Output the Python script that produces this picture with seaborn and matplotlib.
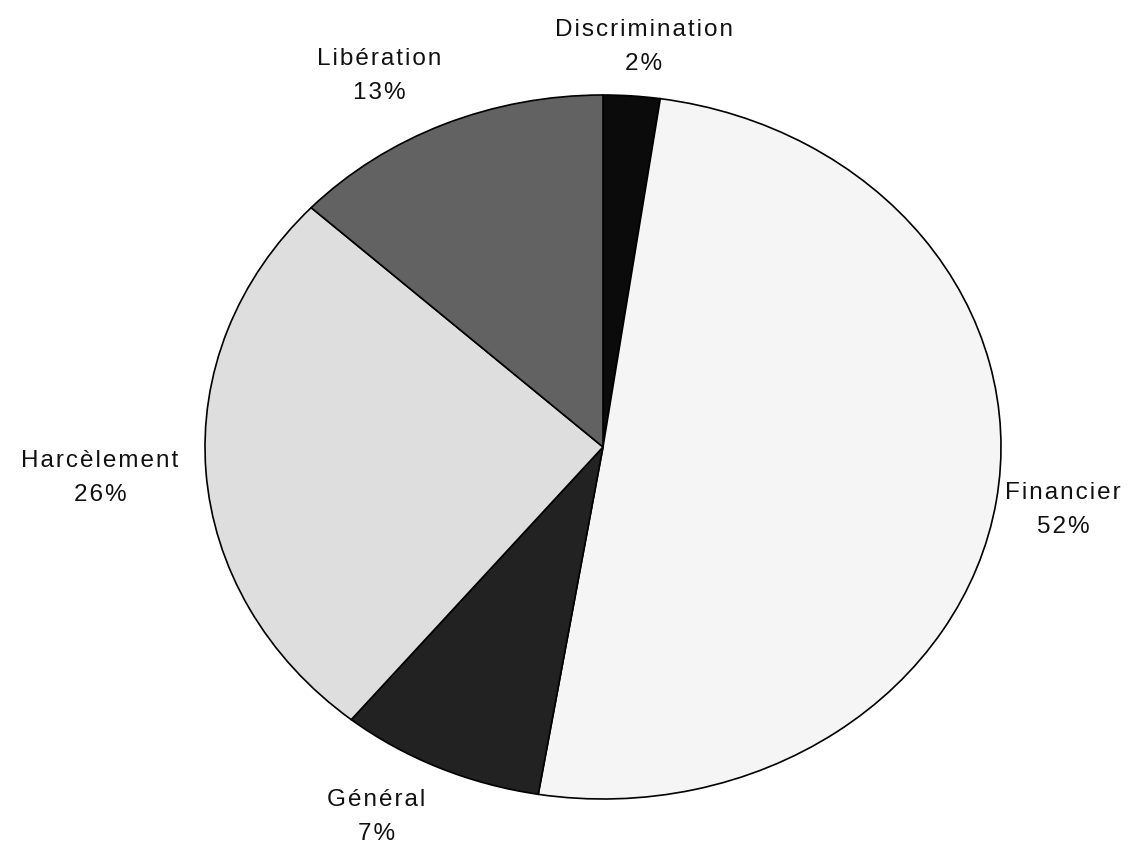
import numpy as np
import matplotlib
matplotlib.use("Agg")
import matplotlib.pyplot as plt
import seaborn as sns

categories = ["Discrimination", "Financier", "Général", "Harcèlement", "Libération"]
values = [2.3, 50.3, 8.3, 26.0, 13.1]
pct_labels = ["2%", "52%", "7%", "26%", "13%"]
colors = ["#0b0b0b", "#f5f5f5", "#222222", "#dedede", "#626262"]

sns.set_theme(style="white")
plt.rcParams["font.family"] = ["Liberation Sans", "DejaVu Sans"]

fig = plt.figure(figsize=(11.48, 8.5), dpi=100)
ax = fig.add_axes([205 / 1148, 51 / 850, 796 / 1148, 704 / 850])

wedges, _ = ax.pie(values, colors=colors, startangle=90, counterclock=False,
                   wedgeprops=dict(edgecolor="black", linewidth=1.2))
ax.set_aspect("auto")
ax.set_xlim(-1, 1)
ax.set_ylim(-1, 1)
ax.axis("off")


def spaced(s):
    return "\u200a".join(s)


# per-label radial distance and x shift (layout only)
dist = [1.14, 1.17, 1.154, 1.267, 1.15]
xshift = [0.02, 0.0, -0.095, 0.0, -0.103]
for w, name, pct, d, xs in zip(wedges, categories, pct_labels, dist, xshift):
    ang = np.deg2rad((w.theta1 + w.theta2) / 2)
    x = d * np.cos(ang) + xs
    y = d * np.sin(ang)
    ax.text(x, y, spaced(name) + "\n" + spaced(pct), ha="center", va="center",
            fontsize=17.5, linespacing=1.72, color="#111111", clip_on=False)

fig.savefig("out.png", dpi=100)
